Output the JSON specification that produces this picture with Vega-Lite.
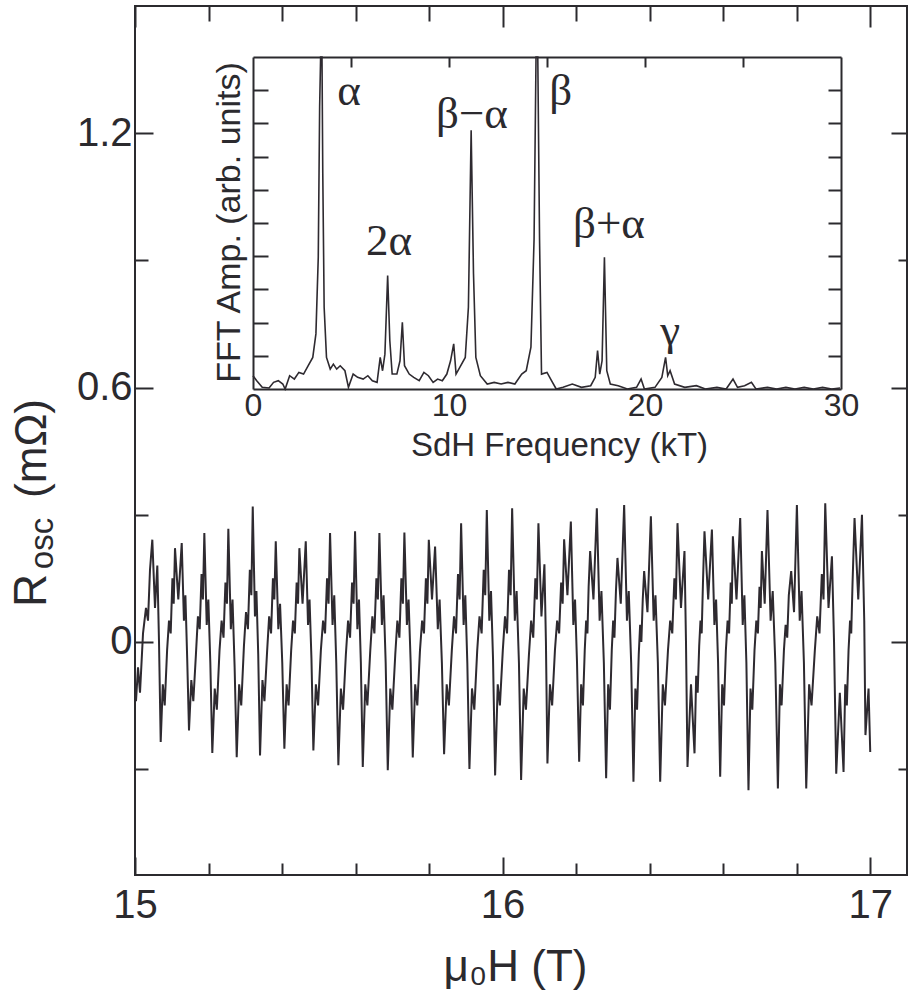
{
"$schema": "https://vega.github.io/schema/vega-lite/v6.json",
"width": 772, "height": 869,
"autosize": {"type": "none"},
"padding": {"left": 135, "top": 6, "right": 2, "bottom": 120},
"background": "white",
"config": {
 "view": {"stroke": "#2b2a2e", "strokeWidth": 2},
 "axis": {"grid": false, "labelFont": "Liberation Sans", "titleFont": "Liberation Sans", "titleFontWeight": "normal", "labelColor": "#2b2a2e", "titleColor": "#2b2a2e", "tickColor": "#2b2a2e", "domainColor": "#2b2a2e", "tickWidth": 2, "domainWidth": 2, "labelOverlap": false, "labelFlush": false}
},
"datasets": {
"osc": [
{"B":15.0027,"R":-0.14},{"B":15.0082,"R":-0.06},{"B":15.0136,"R":-0.12},{"B":15.0218,"R":0.02},{"B":15.0299,"R":0.08},{"B":15.0354,"R":0.05},{"B":15.0408,"R":0.17},{"B":15.0471,"R":0.241},{"B":15.0544,"R":0.08},{"B":15.0607,"R":0.18},{"B":15.0653,"R":0.0},{"B":15.0699,"R":-0.236},
{"B":15.0756,"R":-0.10},{"B":15.0808,"R":-0.15},{"B":15.0873,"R":-0.02},{"B":15.0925,"R":0.05},{"B":15.0971,"R":0.02},{"B":15.1018,"R":0.15},{"B":15.1053,"R":0.09},{"B":15.1088,"R":0.221},{"B":15.1178,"R":0.10},{"B":15.1271,"R":0.233},{"B":15.1331,"R":0.05},{"B":15.1371,"R":0.11},{"B":15.1420,"R":-0.04},{"B":15.1469,"R":-0.209},
{"B":15.1532,"R":-0.09},{"B":15.1586,"R":-0.14},{"B":15.1657,"R":-0.03},{"B":15.1712,"R":0.06},{"B":15.1761,"R":0.03},{"B":15.1810,"R":0.16},{"B":15.1848,"R":0.10},{"B":15.1886,"R":0.257},{"B":15.1951,"R":0.04},{"B":15.1995,"R":0.10},{"B":15.2049,"R":-0.05},{"B":15.2103,"R":-0.262},
{"B":15.2169,"R":-0.11},{"B":15.2226,"R":-0.16},{"B":15.2299,"R":-0.02},{"B":15.2356,"R":0.05},{"B":15.2408,"R":0.01},{"B":15.2460,"R":0.14},{"B":15.2501,"R":0.09},{"B":15.2539,"R":0.267},{"B":15.2607,"R":0.03},{"B":15.2653,"R":0.10},{"B":15.2710,"R":-0.06},{"B":15.2767,"R":-0.272},
{"B":15.2833,"R":-0.10},{"B":15.2890,"R":-0.15},{"B":15.2963,"R":-0.01},{"B":15.3020,"R":0.07},{"B":15.3072,"R":0.03},{"B":15.3124,"R":0.17},{"B":15.3165,"R":0.11},{"B":15.3203,"R":0.319},{"B":15.3263,"R":0.06},{"B":15.3303,"R":0.12},{"B":15.3352,"R":-0.03},{"B":15.3401,"R":-0.268},
{"B":15.3467,"R":-0.09},{"B":15.3521,"R":-0.14},{"B":15.3595,"R":-0.02},{"B":15.3649,"R":0.06},{"B":15.3701,"R":0.02},{"B":15.3752,"R":0.15},{"B":15.3791,"R":0.10},{"B":15.3829,"R":0.237},{"B":15.3899,"R":0.03},{"B":15.3946,"R":0.09},{"B":15.4006,"R":-0.05},{"B":15.4063,"R":-0.252},
{"B":15.4125,"R":-0.10},{"B":15.4177,"R":-0.15},{"B":15.4248,"R":-0.02},{"B":15.4299,"R":0.05},{"B":15.4348,"R":0.02},{"B":15.4397,"R":0.14},{"B":15.4435,"R":0.09},{"B":15.4471,"R":0.221},{"B":15.4558,"R":0.09},{"B":15.4645,"R":0.237},{"B":15.4707,"R":0.04},{"B":15.4748,"R":0.10},{"B":15.4800,"R":-0.04},{"B":15.4852,"R":-0.256},
{"B":15.4920,"R":-0.10},{"B":15.4980,"R":-0.15},{"B":15.5056,"R":-0.02},{"B":15.5116,"R":0.05},{"B":15.5170,"R":0.02},{"B":15.5224,"R":0.15},{"B":15.5265,"R":0.09},{"B":15.5306,"R":0.257},{"B":15.5374,"R":0.04},{"B":15.5420,"R":0.11},{"B":15.5475,"R":-0.05},{"B":15.5532,"R":-0.291},
{"B":15.5600,"R":-0.11},{"B":15.5660,"R":-0.16},{"B":15.5736,"R":-0.03},{"B":15.5796,"R":0.05},{"B":15.5850,"R":0.01},{"B":15.5905,"R":0.14},{"B":15.5946,"R":0.09},{"B":15.5986,"R":0.261},{"B":15.6049,"R":0.03},{"B":15.6093,"R":0.10},{"B":15.6144,"R":-0.05},{"B":15.6196,"R":-0.295},
{"B":15.6264,"R":-0.10},{"B":15.6321,"R":-0.15},{"B":15.6400,"R":-0.02},{"B":15.6457,"R":0.06},{"B":15.6512,"R":0.02},{"B":15.6566,"R":0.15},{"B":15.6607,"R":0.10},{"B":15.6648,"R":0.257},{"B":15.6716,"R":0.04},{"B":15.6762,"R":0.11},{"B":15.6819,"R":-0.05},{"B":15.6876,"R":-0.303},
{"B":15.6944,"R":-0.11},{"B":15.7001,"R":-0.16},{"B":15.7080,"R":-0.03},{"B":15.7137,"R":0.05},{"B":15.7192,"R":0.01},{"B":15.7246,"R":0.15},{"B":15.7287,"R":0.09},{"B":15.7328,"R":0.258},{"B":15.7396,"R":0.04},{"B":15.7442,"R":0.10},{"B":15.7499,"R":-0.05},{"B":15.7556,"R":-0.273},
{"B":15.7622,"R":-0.10},{"B":15.7679,"R":-0.15},{"B":15.7752,"R":-0.02},{"B":15.7810,"R":0.05},{"B":15.7861,"R":0.02},{"B":15.7913,"R":0.15},{"B":15.7954,"R":0.09},{"B":15.7992,"R":0.241},{"B":15.8079,"R":0.10},{"B":15.8163,"R":0.225},{"B":15.8237,"R":0.03},{"B":15.8286,"R":0.10},{"B":15.8348,"R":-0.05},{"B":15.8408,"R":-0.265},
{"B":15.8479,"R":-0.10},{"B":15.8539,"R":-0.15},{"B":15.8618,"R":-0.02},{"B":15.8678,"R":0.06},{"B":15.8732,"R":0.02},{"B":15.8786,"R":0.16},{"B":15.8830,"R":0.10},{"B":15.8871,"R":0.280},{"B":15.8939,"R":0.04},{"B":15.8985,"R":0.11},{"B":15.9040,"R":-0.05},{"B":15.9097,"R":-0.300},
{"B":15.9167,"R":-0.11},{"B":15.9230,"R":-0.16},{"B":15.9309,"R":-0.02},{"B":15.9371,"R":0.06},{"B":15.9429,"R":0.02},{"B":15.9486,"R":0.17},{"B":15.9527,"R":0.11},{"B":15.9570,"R":0.311},{"B":15.9638,"R":0.05},{"B":15.9684,"R":0.12},{"B":15.9739,"R":-0.04},{"B":15.9796,"R":-0.315},
{"B":15.9867,"R":-0.10},{"B":15.9926,"R":-0.15},{"B":16.0005,"R":-0.02},{"B":16.0065,"R":0.06},{"B":16.0120,"R":0.02},{"B":16.0174,"R":0.17},{"B":16.0218,"R":0.11},{"B":16.0259,"R":0.315},{"B":16.0332,"R":0.05},{"B":16.0381,"R":0.12},{"B":16.0444,"R":-0.05},{"B":16.0503,"R":-0.326},
{"B":16.0574,"R":-0.11},{"B":16.0634,"R":-0.16},{"B":16.0716,"R":-0.03},{"B":16.0776,"R":0.05},{"B":16.0833,"R":0.01},{"B":16.0890,"R":0.15},{"B":16.0931,"R":0.10},{"B":16.0974,"R":0.280},{"B":16.1056,"R":0.06},{"B":16.1137,"R":0.183},{"B":16.1178,"R":0.0},{"B":16.1219,"R":-0.287},
{"B":16.1287,"R":-0.10},{"B":16.1347,"R":-0.15},{"B":16.1423,"R":-0.02},{"B":16.1483,"R":0.05},{"B":16.1537,"R":0.02},{"B":16.1592,"R":0.14},{"B":16.1633,"R":0.09},{"B":16.1673,"R":0.242},{"B":16.1763,"R":0.11},{"B":16.1856,"R":0.284},{"B":16.1924,"R":0.04},{"B":16.1970,"R":0.10},{"B":16.2024,"R":-0.05},{"B":16.2082,"R":-0.283},
{"B":16.2136,"R":-0.10},{"B":16.2185,"R":-0.15},{"B":16.2234,"R":-0.02},{"B":16.2272,"R":0.05},{"B":16.2307,"R":0.02},{"B":16.2340,"R":0.13},{"B":16.2381,"R":0.214},{"B":16.2471,"R":0.10},{"B":16.2563,"R":0.315},{"B":16.2639,"R":0.05},{"B":16.2688,"R":0.12},{"B":16.2754,"R":-0.05},{"B":16.2816,"R":-0.322},
{"B":16.2871,"R":-0.10},{"B":16.2920,"R":-0.16},{"B":16.2969,"R":-0.02},{"B":16.3007,"R":0.05},{"B":16.3042,"R":0.01},{"B":16.3083,"R":0.12},{"B":16.3124,"R":0.198},{"B":16.3214,"R":0.09},{"B":16.3306,"R":0.323},{"B":16.3382,"R":0.05},{"B":16.3431,"R":0.12},{"B":16.3497,"R":-0.05},{"B":16.3559,"R":-0.330},
{"B":16.3611,"R":-0.11},{"B":16.3657,"R":-0.16},{"B":16.3703,"R":-0.03},{"B":16.3741,"R":0.04},{"B":16.3774,"R":0.0},{"B":16.3812,"R":0.10},{"B":16.3850,"R":0.167},{"B":16.3940,"R":0.07},{"B":16.4033,"R":0.296},{"B":16.4109,"R":0.05},{"B":16.4158,"R":0.11},{"B":16.4223,"R":-0.05},{"B":16.4286,"R":-0.330},
{"B":16.4357,"R":-0.10},{"B":16.4416,"R":-0.15},{"B":16.4498,"R":-0.02},{"B":16.4558,"R":0.05},{"B":16.4615,"R":0.02},{"B":16.4672,"R":0.15},{"B":16.4713,"R":0.10},{"B":16.4757,"R":0.280},{"B":16.4852,"R":0.08},{"B":16.4947,"R":0.214},{"B":16.4988,"R":0.0},{"B":16.5029,"R":-0.295},{"B":16.5124,"R":-0.10},{"B":16.5220,"R":-0.263},
{"B":16.5265,"R":-0.08},{"B":16.5306,"R":-0.12},{"B":16.5347,"R":-0.01},{"B":16.5382,"R":0.05},{"B":16.5415,"R":0.02},{"B":16.5450,"R":0.14},{"B":16.5491,"R":0.261},{"B":16.5592,"R":0.10},{"B":16.5693,"R":0.265},{"B":16.5761,"R":0.04},{"B":16.5807,"R":0.10},{"B":16.5861,"R":-0.05},{"B":16.5918,"R":-0.318},
{"B":16.5973,"R":-0.10},{"B":16.6022,"R":-0.15},{"B":16.6073,"R":-0.02},{"B":16.6120,"R":0.05},{"B":16.6160,"R":0.02},{"B":16.6204,"R":0.14},{"B":16.6234,"R":0.09},{"B":16.6264,"R":0.249},{"B":16.6362,"R":0.10},{"B":16.6463,"R":0.292},{"B":16.6531,"R":0.04},{"B":16.6577,"R":0.11},{"B":16.6631,"R":-0.05},{"B":16.6688,"R":-0.350},
{"B":16.6743,"R":-0.11},{"B":16.6792,"R":-0.16},{"B":16.6852,"R":-0.02},{"B":16.6901,"R":0.05},{"B":16.6944,"R":0.02},{"B":16.6988,"R":0.13},{"B":16.7020,"R":0.08},{"B":16.7053,"R":0.214},{"B":16.7129,"R":0.09},{"B":16.7205,"R":0.311},{"B":16.7290,"R":0.05},{"B":16.7347,"R":0.12},{"B":16.7418,"R":-0.05},{"B":16.7488,"R":-0.346},
{"B":16.7543,"R":-0.10},{"B":16.7589,"R":-0.15},{"B":16.7652,"R":-0.02},{"B":16.7698,"R":0.04},{"B":16.7742,"R":0.01},{"B":16.7785,"R":0.11},{"B":16.7850,"R":0.167},{"B":16.7927,"R":0.07},{"B":16.8005,"R":0.323},{"B":16.8082,"R":0.05},{"B":16.8131,"R":0.12},{"B":16.8196,"R":-0.05},{"B":16.8259,"R":-0.346},
{"B":16.8338,"R":-0.10},{"B":16.8403,"R":-0.15},{"B":16.8493,"R":-0.02},{"B":16.8558,"R":0.06},{"B":16.8620,"R":0.02},{"B":16.8683,"R":0.16},{"B":16.8729,"R":0.10},{"B":16.8776,"R":0.327},{"B":16.8865,"R":0.08},{"B":16.8958,"R":0.202},{"B":16.9015,"R":0.0},{"B":16.9075,"R":-0.311},{"B":16.9173,"R":-0.12},{"B":16.9274,"R":-0.307},
{"B":16.9320,"R":-0.10},{"B":16.9364,"R":-0.15},{"B":16.9410,"R":-0.02},{"B":16.9451,"R":0.05},{"B":16.9483,"R":0.02},{"B":16.9519,"R":0.14},{"B":16.9573,"R":0.292},{"B":16.9674,"R":0.10},{"B":16.9775,"R":0.300},{"B":16.9837,"R":0.05},{"B":16.9870,"R":-0.22},{"B":16.9954,"R":-0.11},{"B":17.0000,"R":-0.26}
],
"fft": [
{"F":0,"A":0.40},{"F":0.19,"A":0.25},{"F":0.47,"A":0.05},{"F":0.82,"A":0.03},{"F":1.05,"A":0.20},{"F":1.29,"A":0.25},{"F":1.52,"A":0.15},{"F":1.64,"A":0.0},{"F":1.87,"A":0.40},{"F":2.11,"A":0.30},{"F":2.34,"A":0.50},{"F":2.58,"A":0.45},{"F":2.81,"A":0.70},{"F":3.05,"A":0.95},{"F":3.21,"A":1.66},{"F":3.33,"A":3.97},{"F":3.40,"A":8.5},{"F":3.45,"A":10.5},{"F":3.52,"A":10.5},{"F":3.56,"A":6.5},{"F":3.63,"A":2.46},{"F":3.75,"A":0.95},{"F":3.94,"A":0.60},{"F":4.10,"A":0.75},{"F":4.27,"A":0.60},{"F":4.45,"A":0.70},{"F":4.69,"A":0.55},{"F":4.87,"A":0.05},{"F":5.11,"A":0.45},{"F":5.34,"A":0.35},{"F":5.62,"A":0.30},{"F":5.86,"A":0.40},{"F":6.09,"A":0.25},{"F":6.33,"A":0.20},{"F":6.49,"A":0.95},{"F":6.61,"A":0.55},{"F":6.73,"A":1.05},{"F":6.87,"A":3.42},{"F":6.98,"A":1.46},{"F":7.10,"A":0.45},{"F":7.34,"A":0.45},{"F":7.50,"A":0.85},{"F":7.62,"A":2.01},{"F":7.73,"A":0.70},{"F":7.97,"A":0.45},{"F":8.20,"A":0.35},{"F":8.48,"A":0.25},{"F":8.72,"A":0.50},{"F":8.95,"A":0.40},{"F":9.19,"A":0.20},{"F":9.42,"A":0.30},{"F":9.66,"A":0.25},{"F":9.89,"A":0.45},{"F":10.08,"A":0.85},{"F":10.24,"A":1.36},{"F":10.36,"A":0.45},{"F":10.55,"A":0.65},{"F":10.83,"A":0.95},{"F":10.99,"A":2.46},{"F":11.13,"A":7.79},{"F":11.25,"A":3.47},{"F":11.37,"A":0.95},{"F":11.60,"A":0.40},{"F":11.95,"A":0.15},{"F":12.30,"A":0.20},{"F":12.66,"A":0.15},{"F":13.01,"A":0.20},{"F":13.36,"A":0.15},{"F":13.71,"A":0.45},{"F":13.94,"A":0.55},{"F":14.18,"A":1.26},{"F":14.34,"A":4.5},{"F":14.44,"A":10.5},{"F":14.53,"A":10.5},{"F":14.62,"A":4.5},{"F":14.72,"A":0.45},{"F":15.00,"A":0.50},{"F":15.23,"A":0.25},{"F":15.47,"A":0.0},{"F":15.82,"A":0.05},{"F":16.29,"A":0.15},{"F":16.76,"A":0.05},{"F":17.23,"A":0.10},{"F":17.46,"A":0.35},{"F":17.58,"A":1.16},{"F":17.69,"A":0.45},{"F":17.81,"A":0.85},{"F":17.93,"A":3.97},{"F":18.05,"A":0.55},{"F":18.23,"A":0.15},{"F":18.63,"A":0.10},{"F":19.10,"A":0.0},{"F":19.57,"A":0.05},{"F":19.80,"A":0.30},{"F":19.97,"A":0.0},{"F":20.51,"A":0.05},{"F":20.86,"A":0.35},{"F":21.05,"A":0.95},{"F":21.16,"A":0.40},{"F":21.28,"A":0.55},{"F":21.51,"A":0.15},{"F":22.03,"A":0.05},{"F":22.62,"A":0.10},{"F":23.08,"A":0.0},{"F":23.67,"A":0.05},{"F":24.14,"A":0.0},{"F":24.49,"A":0.30},{"F":24.72,"A":0.05},{"F":25.08,"A":0.10},{"F":25.43,"A":0.20},{"F":25.66,"A":0.0},{"F":26.25,"A":0.05},{"F":26.72,"A":0.0},{"F":27.19,"A":0.05},{"F":27.65,"A":0.0},{"F":28.12,"A":0.05},{"F":28.59,"A":0.0},{"F":29.06,"A":0.05},{"F":29.53,"A":0.0},{"F":29.95,"A":0.03}
],
"peaks": [
{"F":4.9,"A":8.55,"t":"α"},{"F":6.94,"A":4.04,"t":"2α"},{"F":11.17,"A":7.86,"t":"β−α"},{"F":15.7,"A":8.55,"t":"β"},{"F":18.16,"A":4.55,"t":"β+α"},{"F":21.28,"A":1.33,"t":"γ"}
]
},
"resolve": {"scale": {"x": "independent", "y": "independent"}, "axis": {"x": "independent", "y": "independent"}},
"layer": [
{
 "data": {"name": "osc"},
 "mark": {"type": "line", "color": "#2e2a30", "strokeWidth": 2},
 "encoding": {
  "x": {"field": "B", "type": "quantitative", "scale": {"domain": [15, 17.1], "nice": false, "zero": false},
   "axis": {"orient": "bottom", "values": [15, 15.2, 15.4, 15.6, 15.8, 16, 16.2, 16.4, 16.6, 16.8, 17], "tickCount": 40,
    "tickSize": {"condition": {"test": "abs(datum.value - round(datum.value)) < 0.01", "value": -18}, "value": -12},
    "domain": false, "labelFontSize": 40, "labelPadding": 28, "labelOverlap": false, "labelFlush": false,
    "labelExpr": "abs(datum.value - round(datum.value)) < 0.01 ? format(datum.value, '.0f') : ''",
    "title": "μ₀H (T)", "titleFontSize": 44, "titleX": 380, "titleY": 105, "titleAlign": "center", "titleBaseline": "alphabetic"}},
  "y": {"field": "R", "type": "quantitative", "scale": {"domain": [-0.55, 1.5], "nice": false, "zero": false},
   "axis": {"orient": "left", "values": [-0.3, 0, 0.3, 0.6, 0.9, 1.2], "tickCount": 40,
    "tickSize": {"condition": {"test": "abs(datum.value - 0.6*round(datum.value/0.6)) < 0.01", "value": -18}, "value": -13},
    "domain": false, "labelFontSize": 40, "labelPadding": 21, "labelOverlap": false,
    "labelExpr": "abs(datum.value - 0.6*round(datum.value/0.6)) < 0.01 ? (abs(datum.value) < 0.01 ? '0' : format(datum.value, '.1f')) : ''",
    "title": "R", "titleFontSize": 46, "titleAngle": 270, "titleX": -90, "titleY": 584, "titleAlign": "center", "titleBaseline": "alphabetic"}}
 }
},
{
 "data": {"name": "osc"},
 "mark": {"type": "line", "opacity": 0},
 "encoding": {
  "x": {"field": "B", "type": "quantitative", "scale": {"domain": [15, 17.1], "nice": false, "zero": false},
   "axis": {"orient": "bottom", "offset": -848, "values": [15, 16, 17], "tickCount": 40, "tickSize": -21, "domain": false, "labels": false, "title": null}},
  "y": {"field": "R", "type": "quantitative", "scale": {"domain": [-0.55, 1.5], "nice": false, "zero": false},
   "axis": {"orient": "right", "values": [-0.3, 0, 0.3, 0.6, 0.9, 1.2], "tickCount": 40,
    "tickSize": {"condition": {"test": "abs(datum.value - 0.6*round(datum.value/0.6)) < 0.01", "value": -16}, "value": -9},
    "domain": false, "labels": false, "title": null}}
 }
},
{
 "data": {"name": "osc"},
 "mark": {"type": "line", "opacity": 0},
 "encoding": {
  "x": {"field": "B", "type": "quantitative", "scale": {"domain": [15, 17.1], "nice": false, "zero": false},
   "axis": {"orient": "bottom", "offset": -854, "values": [15.2, 15.4, 15.6, 15.8, 16.2, 16.4, 16.6, 16.8], "tickCount": 40, "tickSize": -15, "domain": false, "labels": false, "title": null}},
  "y": {"field": "R", "type": "quantitative", "scale": {"domain": [-0.55, 1.5], "nice": false, "zero": false},
   "axis": {"orient": "left", "ticks": false, "domain": false, "labels": false, "title": "osc", "titleFontSize": 33, "titleAngle": 270, "titleX": -83, "titleY": 537, "titleAlign": "center", "titleBaseline": "alphabetic"}}
 }
},
{
 "data": {"name": "osc"},
 "mark": {"type": "line", "opacity": 0},
 "encoding": {
  "x": {"field": "B", "type": "quantitative", "scale": {"domain": [15, 17.1], "nice": false, "zero": false}, "axis": null},
  "y": {"field": "R", "type": "quantitative", "scale": {"domain": [-0.55, 1.5], "nice": false, "zero": false},
   "axis": {"orient": "left", "ticks": false, "domain": false, "labels": false, "title": "(mΩ)", "titleFontSize": 44, "titleAngle": 270, "titleX": -90, "titleY": 442, "titleAlign": "center", "titleBaseline": "alphabetic"}}
 }
},
{
 "data": {"name": "fft"},
 "mark": {"type": "line", "color": "#2e2a30", "strokeWidth": 1.6},
 "encoding": {
  "x": {"field": "F", "type": "quantitative", "scale": {"domain": [0, 30], "range": [118, 706], "nice": false, "zero": false},
   "axis": {"orient": "bottom", "offset": -486, "values": [0, 10, 20, 30], "tickCount": 40, "ticks": false, "domain": true,
    "labelFontSize": 32, "labelPadding": 1, "labelOverlap": false, "format": ".0f",
    "title": "SdH Frequency (kT)", "titleFontSize": 33, "titleX": 424, "titleY": 66, "titleAlign": "center", "titleBaseline": "alphabetic"}},
  "y": {"field": "A", "type": "quantitative", "scale": {"domain": [0, 10], "range": [383, 51], "clamp": true, "nice": false, "zero": false},
   "axis": {"orient": "left", "offset": -118, "values": [1, 2, 3, 4, 5, 6, 7, 8, 9], "tickCount": 40, "tickSize": -15, "domain": true, "labels": false, "title": "FFT Amp. (arb. units)", "titleFontSize": 34, "titleAngle": 270, "titleX": -14, "titleY": 216, "titleAlign": "center", "titleBaseline": "alphabetic"}}
 }
},
{
 "data": {"name": "fft"},
 "mark": {"type": "line", "opacity": 0},
 "encoding": {
  "x": {"field": "F", "type": "quantitative", "scale": {"domain": [0, 30], "range": [118, 706], "nice": false, "zero": false},
   "axis": {"orient": "bottom", "offset": -818, "ticks": false, "labels": false, "domain": true, "title": null}},
  "y": {"field": "A", "type": "quantitative", "scale": {"domain": [0, 10], "range": [383, 51], "clamp": true, "nice": false, "zero": false},
   "axis": {"orient": "right", "offset": -66, "values": [1, 2, 3, 4, 5, 6, 7, 8, 9], "tickCount": 40, "tickSize": -13, "domain": true, "labels": false, "title": null}}
 }
},
{
 "data": {"name": "fft"},
 "mark": {"type": "line", "opacity": 0},
 "encoding": {
  "x": {"field": "F", "type": "quantitative", "scale": {"domain": [0, 30], "range": [118, 706], "nice": false, "zero": false},
   "axis": {"orient": "bottom", "offset": -808, "values": [5, 10, 15, 20, 25], "tickCount": 40, "tickSize": -10, "domain": false, "labels": false, "title": null}},
  "y": {"field": "A", "type": "quantitative", "scale": {"domain": [0, 10], "range": [383, 51], "clamp": true, "nice": false, "zero": false}, "axis": null}
 }
},
{
 "data": {"name": "peaks"},
 "mark": {"type": "text", "font": "Liberation Serif", "fontSize": 45, "color": "#2b2a2e", "align": "center", "baseline": "alphabetic"},
 "encoding": {
  "x": {"field": "F", "type": "quantitative", "scale": {"domain": [0, 30], "range": [118, 706], "nice": false, "zero": false}, "axis": null},
  "y": {"field": "A", "type": "quantitative", "scale": {"domain": [0, 10], "range": [383, 51], "clamp": true, "nice": false, "zero": false}, "axis": null},
  "text": {"field": "t"}
 }
}
]
}
